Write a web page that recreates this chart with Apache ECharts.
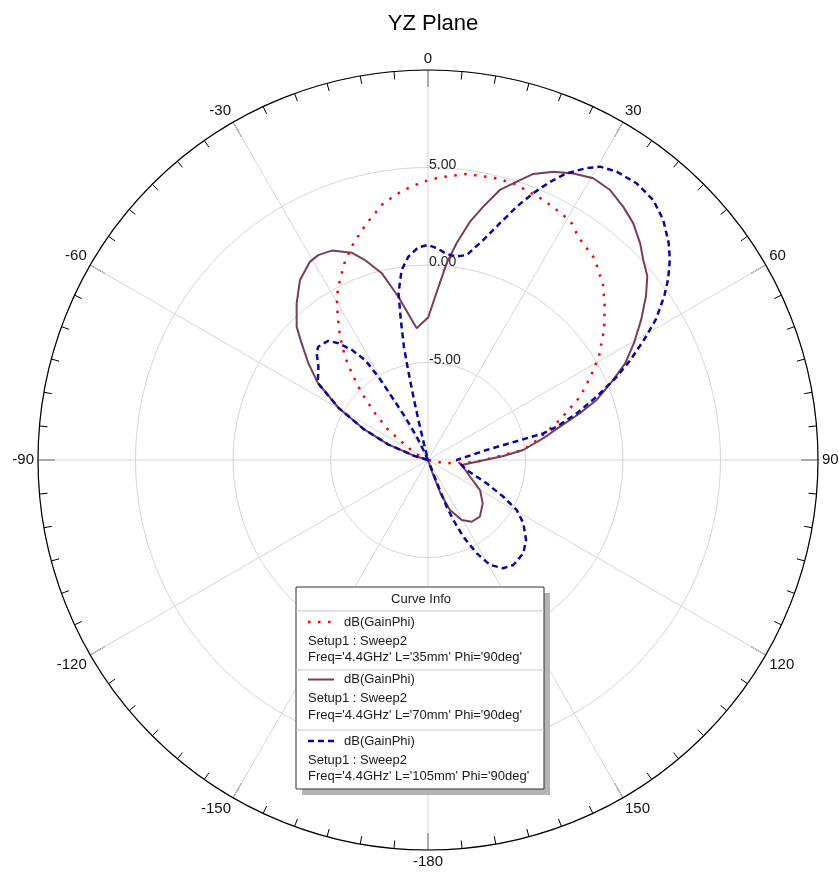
<!DOCTYPE html>
<html><head><meta charset="utf-8">
<script src="https://cdn.jsdelivr.net/npm/echarts@6/dist/echarts.min.js"></script>
<style>html,body{margin:0;padding:0;background:#fff}#c{width:839px;height:873px}</style>
</head><body><div id="c"></div>
<script>
// ---- data (angle in degrees, gain in dB) ----
const redAngles = [-180, -65, -62.7, -55.9, -52.9, -48.6, -44.8, -41.3, -38.8, -35.5, -32.2, -29.2, -26.1, -22.7, -19, -14.5, -9.9, -5.2, -1, 2.4, 7.7, 13.7, 17.5, 23.9, 28.9, 31.3, 33.9, 39.6, 45.1, 48.8, 53.3, 58.8, 62.8, 67.4, 73.1, 77, 79, 84, 87.1, 92, 95.4, 98, 101, 105, 180];
const redGain   = [-10, -10, -9.25, -8.47, -7.45, -6.38, -5.18, -4.08, -3.21, -2.23, -1.31, -0.41, 0.28, 1.03, 1.75, 2.54, 3.36, 3.90, 4.27, 4.51, 4.80, 4.87, 4.84, 4.59, 4.35, 4.2, 3.8, 3.4, 2.68, 2.04, 1.27, 0.25, -0.62, -1.55, -2.93, -3.85, -4.15, -5.1, -6.4, -7.5, -8.35, -8.8, -9.3, -10, -10];

const solidAngles = [-180, -75, -73, -68.6, -64.2, -59.8, -55, -51, -47, -44.6, -43.2, -40, -35.4, -30.8, -28.2, -24.7, -20.2, -17.5, -13.9, -10.3, -4.9, 0.1, 2.5, 5.4, 7.5, 10, 12.3, 14.9, 17.7, 20.2, 23.5, 26.9, 30.4, 34, 37.6, 40.9, 44.4, 47.1, 50, 53, 56.6, 60.4, 63.9, 66.6, 70.4, 72.9, 75.8, 79.3, 84, 87, 92, 98.4, 111.7, 120, 128.4, 137.5, 144.7, 150.7, 156.3, 159.5, 161, 163, 180];
const solidGain   = [-10, -10, -9.2, -7.8, -6.3, -4.7, -3.1, -2.1, -1.1, -0.41, -0.16, 0.48, 1.33, 1.83, 1.92, 1.82, 1.33, 0.75, -0.13, -1.49, -3.22, -2.68, -1.62, 0.13, 1.21, 2.41, 3.30, 4.33, 4.98, 5.63, 6.12, 6.48, 6.75, 6.70, 6.40, 6.07, 5.55, 5.07, 4.68, 4.0, 3.1, 2.15, 1.26, 0.35, -0.82, -1.85, -3.02, -3.98, -5.09, -6.13, -7.5, -8.25, -7.68, -6.92, -6.42, -6.06, -6.12, -6.47, -7.2, -8.18, -9.27, -10, -10];

const blueAngles = [-180, -75, -73, -68.6, -64.2, -59.8, -55, -49.6, -46.2, -44.1, -39.9, -37.5, -34.7, -32.2, -30.8, -29.8, -28, -25.9, -24, -19, -14, -13.5, -13, -12.5, -12, -11, -10, -7.9, -5.5, -2.6, 0, 2.4, 5.2, 8, 10.7, 14.1, 16.9, 19.3, 21.5, 23.7, 25.8, 28.5, 30.4, 33.2, 37, 40.9, 44.4, 47.9, 50.3, 53, 55.2, 58.3, 60.9, 63.7, 66.2, 69.4, 72.6, 75.5, 77, 80.3, 90, 104.5, 111.7, 116, 119.4, 123.6, 129.2, 134.4, 140.9, 145.2, 149.4, 152.4, 155.3, 157.1, 158.2, 158.5, 158.8, 160, 180];
const blueGain   = [-10, -10, -9.2, -7.8, -6.3, -4.7, -3.1, -2.62, -2.09, -1.91, -2.03, -2.45, -3.13, -3.94, -5.03, -6.26, -7.49, -8.67, -9.6, -10, -8.95, -7.9, -6.7, -5.3, -4.05, -2.7, -1.3, -0.16, 0.48, 0.92, 1.03, 0.87, 0.61, 0.54, 0.70, 1.63, 2.69, 3.76, 4.70, 5.58, 6.33, 7.03, 7.44, 7.67, 7.77, 7.64, 7.24, 6.63, 6.12, 5.42, 4.76, 3.74, 2.68, 1.58, 0.58, -0.76, -2.01, -3.18, -3.93, -6.95, -8.53, -7.95, -6.76, -5.70, -4.78, -4.13, -3.51, -3.16, -3.06, -3.24, -3.75, -4.6, -5.67, -6.66, -7.42, -8.34, -9.27, -10, -10];

const angleTickValues = [0, 30, 60, 90, 120, 150, 180, 210, 240, 270, 300, 330];
const angleTickLabels = ['0', '30', '60', '90', '120', '150', '-180', '-150', '-120', '-90', '-60', '-30'];
const radiusTickValues = [-10, -5, 0, 5, 10];
const radiusTickLabels = ['', '-5.00', '0.00', '5.00', ''];

const seriesNames = ["L='35mm'", "L='70mm'", "L='105mm'"];
const legendLine1 = 'dB(GainPhi)';
const legendLine2 = 'Setup1 : Sweep2';
const legendLine3 = ["Freq='4.4GHz' L='35mm' Phi='90deg'", "Freq='4.4GHz' L='70mm' Phi='90deg'", "Freq='4.4GHz' L='105mm' Phi='90deg'"];

// ---- build ----
const toPolar = (angles, gains) => angles.map((a, i) => [gains[i], a < 0 ? a + 360 : a]);
const FONT = "'Liberation Sans', Arial, sans-serif";
const colors = ['#ff0000', '#7b3b5b', '#0808a0'];
const dashes = [[2.5, 7.5], 'solid', [6, 4]];
const widths = [2.5, 2, 2.5];

const chart = echarts.init(document.getElementById('c'), null, {renderer: 'canvas'});

const L = {x: 296, y: 587, w: 248, h: 202};
const rowY = [622, 679.5, 741];
const TXT = '13px ' + FONT;
const graphics = [
  {type: 'rect', shape: {x: L.x + 6, y: L.y + 6, width: L.w, height: L.h}, style: {fill: '#b4b4b4'}, z: 100},
  {type: 'rect', shape: {x: L.x, y: L.y, width: L.w, height: L.h}, style: {fill: '#fff', stroke: '#333', lineWidth: 1}, z: 101},
  {type: 'text', x: L.x + 125, y: 599, style: {text: 'Curve Info', font: TXT, fill: '#1a1a1a', align: 'center', verticalAlign: 'middle'}, z: 102},
  {type: 'line', shape: {x1: L.x, y1: 611, x2: L.x + L.w, y2: 611}, style: {stroke: '#c8c8c8', lineWidth: 1}, z: 102},
  {type: 'line', shape: {x1: L.x, y1: 670, x2: L.x + L.w, y2: 670}, style: {stroke: '#c8c8c8', lineWidth: 1}, z: 102},
  {type: 'line', shape: {x1: L.x, y1: 730, x2: L.x + L.w, y2: 730}, style: {stroke: '#c8c8c8', lineWidth: 1}, z: 102}
];
rowY.forEach((yy, i) => {
  graphics.push({type: 'line', shape: {x1: 308, y1: yy, x2: 334, y2: yy},
    style: {stroke: colors[i], lineWidth: widths[i], lineDash: dashes[i] === 'solid' ? null : dashes[i]}, z: 102});
  graphics.push({type: 'text', x: 344, y: yy, style: {text: legendLine1, font: TXT, fill: '#1a1a1a', verticalAlign: 'middle'}, z: 102});
  graphics.push({type: 'text', x: 308, y: yy + 19, style: {text: legendLine2, font: TXT, fill: '#1a1a1a', verticalAlign: 'middle'}, z: 102});
  graphics.push({type: 'text', x: 308, y: yy + 35.5, style: {text: legendLine3[i], font: TXT, fill: '#1a1a1a', verticalAlign: 'middle'}, z: 102});
});

const option = {
  animation: false,
  backgroundColor: '#fff',
  title: {text: 'YZ Plane', left: 428, top: 8, textAlign: 'center',
    textStyle: {fontSize: 22, fontWeight: 'normal', color: '#000', fontFamily: FONT}},
  polar: {center: [428, 460], radius: 390},
  angleAxis: {
    type: 'value', min: 0, max: 360, interval: 30, startAngle: 90, clockwise: true, z: 2,
    axisLine: {show: true, lineStyle: {color: '#000', width: 1.2}},
    axisTick: {show: true, inside: true, length: 17, lineStyle: {color: '#000', width: 1}},
    minorTick: {show: true, splitNumber: 6, length: 8, lineStyle: {color: '#000', width: 1}},
    axisLabel: {margin: 4, color: '#111', fontSize: 15, fontFamily: FONT,
      formatter: v => { const k = angleTickValues.indexOf(Math.round(v)); return k >= 0 ? angleTickLabels[k] : ''; }},
    splitLine: {show: true, lineStyle: {color: '#d6d6d6', width: 1}}
  },
  radiusAxis: {
    type: 'value', min: -10, max: 10, interval: 5, z: 1,
    axisLine: {show: false}, axisTick: {show: false},
    axisLabel: {margin: -1, align: 'left', verticalAlign: 'bottom', lineHeight: 5, color: '#222', fontSize: 14, fontFamily: FONT,
      formatter: v => { const k = radiusTickValues.indexOf(v); return k >= 0 ? radiusTickLabels[k] : ''; }},
    splitLine: {show: true, lineStyle: {color: '#d6d6d6', width: 1}}
  },
  series: [
    {name: seriesNames[0], type: 'line', coordinateSystem: 'polar', symbol: 'none', data: toPolar(redAngles, redGain),
      lineStyle: {color: colors[0], width: widths[0], type: dashes[0]}, z: 3},
    {name: seriesNames[1], type: 'line', coordinateSystem: 'polar', symbol: 'none', data: toPolar(solidAngles, solidGain),
      lineStyle: {color: colors[1], width: widths[1], type: dashes[1]}, z: 3},
    {name: seriesNames[2], type: 'line', coordinateSystem: 'polar', symbol: 'none', data: toPolar(blueAngles, blueGain),
      lineStyle: {color: colors[2], width: widths[2], type: dashes[2]}, z: 3}
  ],
  graphic: graphics
};
chart.setOption(option);
</script>
</body></html>
